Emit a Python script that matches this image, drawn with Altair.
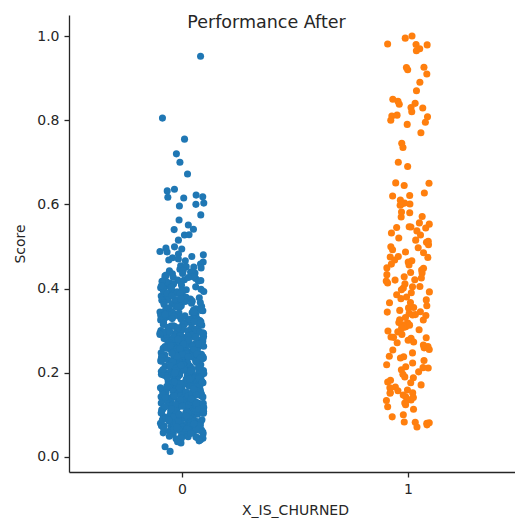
import altair as alt
import pandas as pd

# Scores for X_IS_CHURNED == 0
churned_0_top = [0.952, 0.805, 0.755, 0.72, 0.70, 0.672, 0.632, 0.636, 0.615, 0.618,
                 0.622, 0.617, 0.603, 0.60, 0.596, 0.575, 0.563, 0.551, 0.54, 0.541,
                 0.527, 0.528, 0.515, 0.496, 0.499]
churned_0_mid = [0.494, 0.488, 0.487, 0.482, 0.480, 0.476, 0.473, 0.470, 0.468, 0.466,
                 0.463, 0.458, 0.454, 0.451, 0.452, 0.449, 0.446, 0.442, 0.439, 0.437,
                 0.435, 0.436, 0.432, 0.430, 0.427, 0.425, 0.424, 0.421, 0.420, 0.418,
                 0.415, 0.413, 0.411, 0.409, 0.407, 0.405, 0.404, 0.402, 0.401, 0.399,
                 0.397, 0.395, 0.392, 0.391, 0.389, 0.386, 0.384, 0.382, 0.381, 0.379,
                 0.377, 0.375, 0.373, 0.372, 0.370, 0.368, 0.366, 0.364, 0.362, 0.361,
                 0.359, 0.357, 0.355, 0.353, 0.352, 0.351, 0.443, 0.438, 0.431, 0.428,
                 0.419, 0.416, 0.412, 0.408, 0.403, 0.398, 0.394, 0.388, 0.385, 0.378,
                 0.374, 0.369, 0.365, 0.358, 0.354, 0.426, 0.417, 0.406, 0.396, 0.387,
                 0.376, 0.367, 0.356, 0.393, 0.383]
churned_0_low = [
    0.349, 0.347, 0.346, 0.344, 0.343, 0.341, 0.340, 0.348, 0.345, 0.342,
    0.339, 0.338, 0.336, 0.335, 0.333, 0.332, 0.331, 0.330, 0.337, 0.334,
    0.329, 0.328, 0.326, 0.325, 0.323, 0.322, 0.321, 0.320, 0.327, 0.324, 0.3255,
    0.319, 0.318, 0.316, 0.315, 0.313, 0.312, 0.311, 0.310, 0.317, 0.314, 0.3145,
    0.309, 0.308, 0.306, 0.305, 0.303, 0.302, 0.301, 0.300, 0.307, 0.304, 0.3035, 0.3065,
    0.299, 0.297, 0.296, 0.295, 0.293, 0.292, 0.291, 0.290, 0.298, 0.294, 0.2935, 0.2965,
    0.289, 0.288, 0.286, 0.285, 0.283, 0.282, 0.281, 0.280, 0.287, 0.284, 0.2845, 0.2875,
    0.279, 0.278, 0.276, 0.275, 0.273, 0.272, 0.271, 0.270, 0.277, 0.274, 0.2735, 0.2765, 0.2715,
    0.269, 0.268, 0.266, 0.265, 0.263, 0.262, 0.261, 0.260, 0.267, 0.264, 0.2625, 0.2655, 0.2685,
    0.259, 0.258, 0.256, 0.255, 0.253, 0.252, 0.251, 0.250, 0.257, 0.254, 0.2525, 0.2555, 0.2585,
    0.249, 0.248, 0.246, 0.245, 0.243, 0.242, 0.241, 0.240, 0.247, 0.244, 0.2425, 0.2455, 0.2485,
    0.239, 0.238, 0.236, 0.235, 0.233, 0.232, 0.231, 0.230, 0.237, 0.234, 0.2325, 0.2355, 0.2385, 0.2305,
    0.229, 0.228, 0.226, 0.225, 0.223, 0.222, 0.221, 0.220, 0.227, 0.224, 0.2225, 0.2255, 0.2285, 0.2205,
    0.219, 0.218, 0.216, 0.215, 0.213, 0.212, 0.211, 0.210, 0.217, 0.214, 0.2125, 0.2155, 0.2185, 0.2105,
    0.209, 0.208, 0.206, 0.205, 0.203, 0.202, 0.201, 0.200, 0.207, 0.204, 0.2025, 0.2055, 0.2085, 0.2005,
    0.199, 0.198, 0.196, 0.195, 0.193, 0.192, 0.191, 0.190, 0.197, 0.194, 0.1925, 0.1955, 0.1985, 0.1905,
    0.189, 0.188, 0.186, 0.185, 0.183, 0.182, 0.181, 0.180, 0.187, 0.184, 0.1825, 0.1855, 0.1885, 0.1805,
    0.179, 0.178, 0.176, 0.175, 0.173, 0.172, 0.171, 0.170, 0.177, 0.174, 0.1725, 0.1755, 0.1785, 0.1705,
    0.169, 0.168, 0.166, 0.165, 0.163, 0.162, 0.161, 0.160, 0.167, 0.164, 0.1625, 0.1655, 0.1685, 0.1605,
    0.159, 0.158, 0.156, 0.155, 0.153, 0.152, 0.151, 0.150, 0.157, 0.154, 0.1525, 0.1555, 0.1585, 0.1505,
    0.149, 0.148, 0.146, 0.145, 0.143, 0.142, 0.141, 0.140, 0.147, 0.144, 0.1425, 0.1455, 0.1485, 0.1405,
    0.139, 0.138, 0.136, 0.135, 0.133, 0.132, 0.131, 0.130, 0.137, 0.134, 0.1325, 0.1355, 0.1385, 0.1305,
    0.129, 0.128, 0.126, 0.125, 0.123, 0.122, 0.121, 0.120, 0.127, 0.124, 0.1215, 0.1265, 0.1235, 0.1285,
    0.119, 0.118, 0.116, 0.115, 0.113, 0.112, 0.111, 0.110, 0.117, 0.114, 0.1115, 0.1165, 0.1135, 0.1185,
    0.109, 0.108, 0.106, 0.105, 0.103, 0.102, 0.101, 0.100, 0.107, 0.104, 0.1015, 0.1065, 0.1035, 0.1085,
    0.099, 0.098, 0.096, 0.095, 0.093, 0.092, 0.091, 0.090, 0.097, 0.094, 0.0915, 0.0965, 0.0935,
    0.089, 0.088, 0.086, 0.085, 0.083, 0.082, 0.081, 0.080, 0.087, 0.084, 0.0815, 0.0865, 0.0835,
    0.079, 0.078, 0.076, 0.075, 0.073, 0.072, 0.071, 0.070, 0.077, 0.074, 0.0715, 0.0765,
    0.069, 0.068, 0.066, 0.065, 0.063, 0.062, 0.061, 0.060, 0.067, 0.064, 0.0635,
    0.059, 0.058, 0.056, 0.055, 0.053, 0.052, 0.051, 0.057, 0.054,
    0.049, 0.047, 0.046, 0.044, 0.043, 0.041,
    0.048, 0.045, 0.040, 0.038, 0.036, 0.033, 0.024, 0.013,
]
churned_0_extra = [
    0.296, 0.281, 0.268, 0.257, 0.244, 0.236, 0.226, 0.213, 0.204, 0.196,
    0.187, 0.178, 0.169, 0.158, 0.149, 0.138, 0.127, 0.118, 0.107, 0.098,
    0.088, 0.077, 0.066, 0.057, 0.291, 0.277, 0.263, 0.249, 0.239, 0.228,
    0.217, 0.207, 0.198, 0.186, 0.176, 0.164, 0.154, 0.146, 0.133, 0.124,
    0.113, 0.104, 0.094, 0.084, 0.074, 0.064, 0.302, 0.286, 0.272, 0.258,
    0.246, 0.232, 0.219, 0.209, 0.194, 0.183, 0.171, 0.161, 0.151, 0.141,
    0.131, 0.121, 0.111, 0.101, 0.091, 0.081, 0.071, 0.318, 0.334, 0.327,
    0.2935, 0.2845, 0.2745, 0.2645, 0.2545, 0.2445, 0.2345, 0.2245, 0.2145, 0.2045,
    0.1945, 0.1845, 0.1745, 0.1645, 0.1545, 0.1445, 0.1345, 0.1245, 0.1145, 0.1045,
    0.0945, 0.0845, 0.0745, 0.0655, 0.0555, 0.2975, 0.2875, 0.2785, 0.2675, 0.2575,
    0.2475, 0.2375, 0.2275, 0.2175, 0.2075, 0.1975, 0.1875, 0.1775, 0.1675, 0.1575,
    0.1475, 0.1375, 0.1275, 0.1175, 0.1075, 0.0975, 0.0875, 0.0785, 0.0685, 0.3115,
    0.3215, 0.3285, 0.3385, 0.3445, 0.3065, 0.2795, 0.2385, 0.1995, 0.1615, 0.1205,
]

# Scores for X_IS_CHURNED == 1
churned_1 = [
    1.00, 0.98, 0.981, 0.97, 0.995, 0.979, 0.965, 0.925, 0.92, 0.926,
    0.91, 0.89, 0.87, 0.845, 0.85, 0.84, 0.838, 0.83, 0.829, 0.82,
    0.81, 0.812, 0.808, 0.80, 0.79, 0.795,
    0.77, 0.745, 0.735, 0.70, 0.69, 0.65, 0.645, 0.651, 0.627, 0.62,
    0.621, 0.603, 0.61, 0.60, 0.598, 0.601, 0.58, 0.57, 0.582, 0.571,
    0.556, 0.553, 0.546, 0.547, 0.545,
    0.544, 0.537, 0.527, 0.52, 0.515, 0.51, 0.499, 0.497, 0.504, 0.487,
    0.485, 0.475, 0.476, 0.474, 0.468, 0.463, 0.456, 0.449, 0.448, 0.444,
    0.437, 0.438, 0.428, 0.425, 0.42, 0.421, 0.413, 0.404, 0.405, 0.401,
    0.397, 0.39, 0.38, 0.385, 0.373, 0.366, 0.359, 0.354, 0.355, 0.344,
    0.345, 0.337, 0.338, 0.336, 0.325, 0.326, 0.318, 0.314, 0.319, 0.309,
    0.308,
    0.302, 0.306, 0.297, 0.283, 0.285, 0.284, 0.282, 0.273, 0.271, 0.254,
    0.259, 0.255, 0.238, 0.239, 0.235, 0.219, 0.214, 0.223, 0.211, 0.212,
    0.202, 0.19, 0.188, 0.178, 0.176, 0.166, 0.164, 0.159, 0.152, 0.153,
    0.151, 0.143, 0.135, 0.147, 0.136, 0.134, 0.124, 0.119, 0.10, 0.095,
    0.081, 0.083, 0.080, 0.076, 0.082, 0.071,
    0.532, 0.492, 0.466, 0.433, 0.411, 0.392, 0.367, 0.348, 0.331, 0.313,
    0.291, 0.277, 0.262, 0.247, 0.229, 0.207, 0.196, 0.182, 0.171, 0.157,
    0.141, 0.128, 0.113, 0.512, 0.458, 0.418, 0.376, 0.341, 0.299, 0.266,
]

categories = [0, 1]
colors = ["#1f77b4", "#ff7f0e"]
y_ticks = [0.0, 0.2, 0.4, 0.6, 0.8, 1.0]
x_ticks = [0, 1]

churned_0 = churned_0_top + churned_0_mid + churned_0_low + churned_0_extra
df = pd.DataFrame({
    "X_IS_CHURNED": [0] * len(churned_0) + [1] * len(churned_1),
    "Score": churned_0 + churned_1,
})

ink = "#262626"
font = "DejaVu Sans"

chart = (
    alt.Chart(df)
    .transform_window(rn="row_number()")
    .transform_calculate(h="sin(datum.rn * 12.9898) * 43758.5453")
    .transform_calculate(
        xj="datum.X_IS_CHURNED + ((datum.h - floor(datum.h)) - 0.5) * 0.195"
    )
    .mark_circle(size=50, opacity=1, strokeWidth=0)
    .encode(
        x=alt.X(
            "xj:Q",
            scale=alt.Scale(domain=[-0.5, 1.474], nice=False, zero=False),
            axis=alt.Axis(
                values=x_ticks, format="d", title="X_IS_CHURNED", grid=False,
                titleX=226, titleY=38, titleBaseline="middle", titleAlign="center",
            ),
        ),
        y=alt.Y(
            "Score:Q",
            scale=alt.Scale(domain=[-0.036, 1.05], nice=False, zero=False),
            axis=alt.Axis(
                values=y_ticks, format=".1f", title="Score", grid=False,
                titleX=-49, titleY=228.5, titleAngle=270, titleBaseline="middle",
                titleAlign="center",
            ),
        ),
        color=alt.Color(
            "X_IS_CHURNED:N",
            scale=alt.Scale(domain=categories, range=colors),
            legend=None,
        ),
    )
    .properties(
        width=446,
        height=457,
        autosize="none",
        padding={"left": 69, "top": 15, "right": 0, "bottom": 51},
        title=alt.TitleParams(
            "Performance After", anchor="middle", orient="top", offset=0,
            dx=-25.5, dy=30, baseline="alphabetic", fontSize=17.5, font=font,
            fontWeight="normal", color=ink,
        ),
    )
    .configure_view(strokeOpacity=0)
    .configure_axis(
        domainColor=ink, domainWidth=1.3, tickColor=ink, tickWidth=1.3, tickSize=5,
        labelColor=ink, labelFont=font, labelFontSize=14, labelPadding=5,
        titleColor=ink, titleFont=font, titleFontSize=14, titleFontWeight="normal",
    )
)

chart.save("out.html", embed_options={"renderer": "svg", "actions": False})
